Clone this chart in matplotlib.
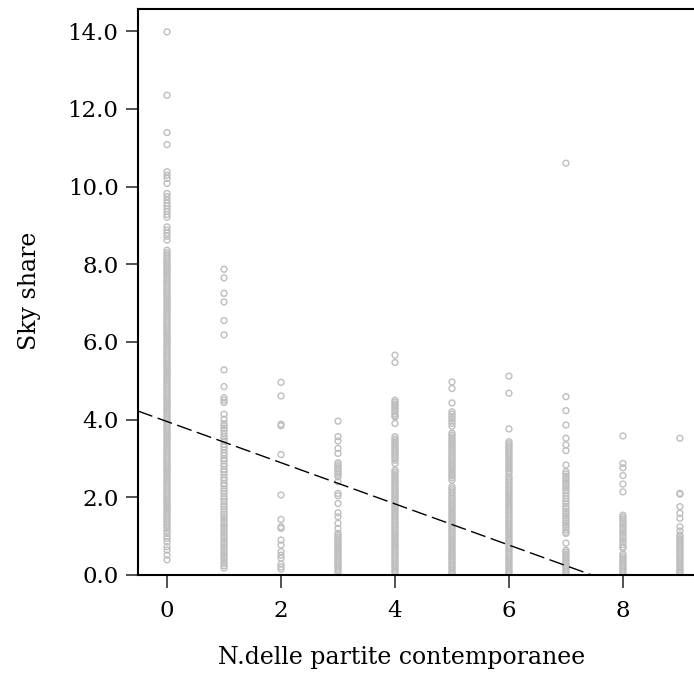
import numpy as np
import matplotlib
matplotlib.use('Agg')
import matplotlib.pyplot as plt
from matplotlib.ticker import FormatStrFormatter

# sky share per number of simultaneous matches
col0 = [13.98, 12.35, 11.39, 11.08, 10.38, 10.29, 10.21, 10.08, 9.82, 9.74, 9.65, 9.57, 9.5,
        9.43, 9.36, 9.28, 9.21, 8.96, 8.88, 8.8, 8.72, 8.62,
        8.36, 8.3, 8.25, 8.2, 8.15, 8.1, 8.05, 8.0, 7.95, 7.9, 7.85, 7.8, 7.75, 7.7, 7.65, 7.6,
        7.55, 7.5, 7.45, 7.4, 7.35, 7.3, 7.25, 7.2, 7.15, 7.1, 7.05, 7.0, 6.95, 6.9, 6.85, 6.8,
        6.75, 6.7, 6.65, 6.6, 6.55, 6.5, 6.45, 6.4, 6.35, 6.3, 6.25, 6.2, 6.15, 6.1, 6.05, 6.0,
        5.95, 5.9, 5.85, 5.8, 5.75, 5.7, 5.65, 5.6, 5.55, 5.5, 5.45, 5.4, 5.35, 5.3, 5.25, 5.2,
        5.15, 5.1, 5.05, 5.0, 4.95, 4.9, 4.85, 4.8, 4.75, 4.7, 4.65, 4.6, 4.55, 4.5, 4.45, 4.4,
        4.35, 4.3, 4.25, 4.2, 4.15, 4.1, 4.05, 4.0, 3.95, 3.9, 3.85, 3.8, 3.75, 3.7, 3.65, 3.6,
        3.55, 3.5, 3.45, 3.4, 3.35, 3.3, 3.25, 3.2, 3.15, 3.1, 3.05, 3.0, 2.95, 2.9, 2.85, 2.8,
        2.75, 2.7, 2.65, 2.6, 2.55, 2.5, 2.45, 2.4, 2.35, 2.3, 2.25, 2.2, 2.15, 2.1, 2.05, 2.0,
        1.95, 1.9, 1.85, 1.8, 1.75, 1.7, 1.65, 1.6, 1.55, 1.5, 1.45, 1.4, 1.35, 1.3, 1.25, 1.2,
        1.13, 1.07, 1.0, 0.94, 0.85, 0.73, 0.64, 0.51, 0.39]
col1 = [7.87, 7.65, 7.25, 7.03, 6.55, 6.18, 5.28, 4.85, 4.56, 4.5, 4.44, 4.14, 4.01, 3.9, 3.84,
        3.78, 3.72, 3.64, 3.56, 3.5, 3.44, 3.36, 3.3, 3.22, 3.14, 3.08, 3.0, 2.94, 2.86, 2.8,
        2.72, 2.66, 2.58, 2.5, 2.44, 2.36, 2.3, 2.22, 2.16, 2.1, 2.02, 1.96, 1.9, 1.82, 1.76,
        1.7, 1.62, 1.56, 1.5, 1.44, 1.38, 1.32, 1.26, 1.2, 1.14, 1.08, 1.02, 0.96, 0.9, 0.84,
        0.78, 0.72, 0.66, 0.6, 0.54, 0.48, 0.42, 0.36, 0.3, 0.24, 0.18]
col2 = [4.96, 4.61, 3.88, 3.84, 3.1, 2.06, 1.43, 1.24, 1.2, 0.9, 0.77, 0.6, 0.51, 0.43, 0.28,
        0.21, 0.15]
col3 = [3.96, 3.56, 3.45, 3.26, 3.13, 2.89, 2.84, 2.79, 2.74, 2.69, 2.64, 2.59, 2.53, 2.4,
        2.1, 2.04, 1.84, 1.6, 1.5, 1.33, 1.2, 1.07, 1.02, 0.97, 0.92, 0.87, 0.82, 0.77, 0.72,
        0.67, 0.62, 0.57, 0.52, 0.47, 0.42, 0.37, 0.32, 0.27, 0.22, 0.17, 0.12, 0.08]
col4 = [5.66, 5.47, 4.5, 4.45, 4.4, 4.35, 4.3, 4.25, 4.2, 4.15, 4.1, 4.07, 3.9, 3.56, 3.5,
        3.45, 3.4, 3.35, 3.3, 3.25, 3.2, 3.15, 3.1, 3.05, 3.0, 2.95, 2.87, 2.7, 2.65, 2.6, 2.55,
        2.5, 2.45, 2.4, 2.35, 2.3, 2.25, 2.2, 2.15, 2.1, 2.05, 2.0, 1.95, 1.9, 1.85, 1.8, 1.75,
        1.7, 1.65, 1.6, 1.55, 1.5, 1.45, 1.4, 1.35, 1.3, 1.25, 1.2, 1.15, 1.1, 1.05, 1.0, 0.95,
        0.9, 0.85, 0.8, 0.75, 0.7, 0.65, 0.6, 0.55, 0.5, 0.45, 0.4, 0.35, 0.3, 0.25, 0.2, 0.15,
        0.1, 0.06]
col5 = [4.97, 4.8, 4.43, 4.2, 4.14, 4.08, 4.02, 3.96, 3.9, 3.83, 3.65, 3.6, 3.55, 3.5, 3.45,
        3.4, 3.35, 3.3, 3.25, 3.2, 3.15, 3.1, 3.05, 3.0, 2.95, 2.9, 2.85, 2.8, 2.75, 2.7, 2.65,
        2.6, 2.55, 2.5, 2.44, 2.27, 2.22, 2.17, 2.12, 2.07, 2.02, 1.97, 1.92, 1.87, 1.82, 1.77,
        1.72, 1.67, 1.62, 1.57, 1.52, 1.47, 1.42, 1.37, 1.32, 1.27, 1.22, 1.17, 1.12, 1.07,
        1.02, 0.97, 0.92, 0.87, 0.82, 0.77, 0.72, 0.67, 0.62, 0.57, 0.52, 0.47, 0.42, 0.37,
        0.32, 0.27, 0.22, 0.17, 0.12, 0.07, 0.04]
col6 = [5.12, 4.68, 3.76, 3.43, 3.38, 3.33, 3.28, 3.23, 3.18, 3.13, 3.08, 3.03, 2.98, 2.93,
        2.88, 2.83, 2.78, 2.73, 2.68, 2.62, 2.53, 2.48, 2.43, 2.38, 2.33, 2.28, 2.23, 2.18,
        2.13, 2.08, 2.03, 1.98, 1.93, 1.88, 1.83, 1.78, 1.73, 1.68, 1.63, 1.58, 1.53, 1.48,
        1.43, 1.38, 1.33, 1.28, 1.23, 1.18, 1.13, 1.08, 1.03, 0.98, 0.93, 0.88, 0.83, 0.78,
        0.73, 0.68, 0.63, 0.58, 0.53, 0.48, 0.43, 0.38, 0.33, 0.28, 0.23, 0.18, 0.13, 0.08,
        0.04]
col7 = [10.6, 4.59, 4.23, 3.86, 3.52, 3.35, 3.2, 2.83, 2.66, 2.6, 2.54, 2.48, 2.42, 2.36, 2.3,
        2.24, 2.18, 2.12, 2.04, 1.96, 1.9, 1.84, 1.76, 1.7, 1.64, 1.58, 1.52, 1.46, 1.4, 1.34,
        1.28, 1.22, 1.16, 1.1, 1.07, 0.82, 0.64, 0.59, 0.54, 0.49, 0.44, 0.39, 0.34, 0.29,
        0.24, 0.19, 0.14, 0.09, 0.04]
col8 = [3.58, 2.87, 2.76, 2.56, 2.34, 2.14, 1.54, 1.49, 1.44, 1.38, 1.32, 1.26, 1.2, 1.14,
        1.08, 1.02, 0.96, 0.9, 0.84, 0.78, 0.72, 0.69, 0.54, 0.49, 0.44, 0.39, 0.34, 0.29,
        0.24, 0.19, 0.14, 0.09, 0.04]
col9 = [3.52, 2.1, 2.08, 1.76, 1.59, 1.46, 1.24, 1.13, 1.03, 0.98, 0.93, 0.88, 0.83, 0.78,
        0.73, 0.68, 0.63, 0.58, 0.53, 0.48, 0.43, 0.38, 0.33, 0.28, 0.23, 0.18, 0.13, 0.08,
        0.04]
columns = [col0, col1, col2, col3, col4, col5, col6, col7, col8, col9]
n_matches = list(range(len(columns)))

# dashed fit line
fit_intercept = 3.95
fit_slope = -0.53

plt.rcParams['font.family'] = ['DejaVu Serif']

fig = plt.figure(figsize=(6.94, 6.85), dpi=100)
ax = fig.add_axes([0.1988, 0.1606, 0.822, 0.8263])

for xi, vals in zip(n_matches, columns):
    ax.scatter([xi] * len(vals), vals, s=18, facecolors='none', edgecolors='#bebebe',
               linewidths=1.0, zorder=2)

xl = np.array([-0.51, 9.5])
ax.plot(xl, fit_intercept + fit_slope * xl, color='black', lw=1.0,
        dashes=(11, 4), zorder=3)

ax.set_xlim(-0.51, 9.5)
ax.set_ylim(0, 14.57)
ax.set_xticks([0, 2, 4, 6, 8])
ax.set_yticks(np.arange(0, 15, 2))
ax.yaxis.set_major_formatter(FormatStrFormatter('%.1f'))
ax.tick_params(axis='both', direction='out', length=9, width=1.2, labelsize=16.5,
               color='#333333', pad=5)
ax.tick_params(axis='x', pad=9)
for s in ['left', 'top', 'bottom']:
    ax.spines[s].set_linewidth(1.5)
ax.spines['right'].set_visible(False)

fig.text(0.043, 0.575, 'Sky share', rotation=90, ha='center', va='center', fontsize=17)
fig.text(0.578, 0.04, 'N.delle partite contemporanee', ha='center', va='center', fontsize=17)

fig.savefig('out.png', dpi=100)
